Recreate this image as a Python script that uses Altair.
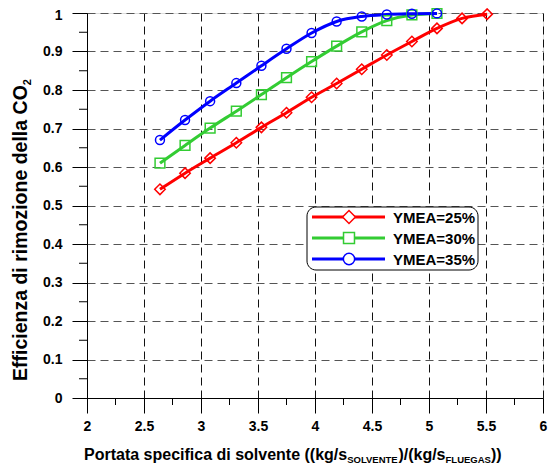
import altair as alt
import pandas as pd

# ---------------- data ----------------
series_labels = ["YMEA=25%", "YMEA=30%", "YMEA=35%"]
series_colors = ["#ff0000", "#33cc33", "#0000ff"]
series_shapes = ["diamond", "square", "circle"]
series_sizes = [110, 80, 85]

x_25 = [2.64, 2.86, 3.08, 3.31, 3.53, 3.75, 3.97, 4.19, 4.41, 4.63, 4.85, 5.07, 5.29, 5.51]
y_25 = [0.542, 0.584, 0.623, 0.663, 0.703, 0.741, 0.781, 0.817, 0.854, 0.891, 0.926, 0.960, 0.986, 0.997]

x_30 = [2.64, 2.86, 3.08, 3.31, 3.53, 3.75, 3.97, 4.19, 4.41, 4.63, 4.85, 5.07]
y_30 = [0.610, 0.656, 0.701, 0.745, 0.788, 0.832, 0.874, 0.914, 0.951, 0.980, 0.995, 0.999]

x_35 = [2.64, 2.86, 3.08, 3.31, 3.53, 3.75, 3.97, 4.19, 4.41, 4.63, 4.85, 5.07]
y_35 = [0.670, 0.722, 0.771, 0.818, 0.863, 0.907, 0.948, 0.978, 0.991, 0.996, 0.998, 0.999]

x_ticks = [2, 2.5, 3, 3.5, 4, 4.5, 5, 5.5, 6]
x_minor = [2.25, 2.75, 3.25, 3.75, 4.25, 4.75, 5.25, 5.75]
y_ticks = [0, 0.1, 0.2, 0.3, 0.4, 0.5, 0.6, 0.7, 0.8, 0.9, 1]
y_minor = [0.05, 0.15, 0.25, 0.35, 0.45, 0.55, 0.65, 0.75, 0.85, 0.95]

x_title_parts = [("Portata specifica di solvente ((kg/s", False), ("SOLVENTE", True),
                 (")/(kg/s", False), ("FLUEGAS", True), ("))", False)]
y_title_parts = [("Efficienza di rimozione della CO", False), ("2", True)]

# ---------------- layout ----------------
W, H = 456, 385
FONT = "Liberation Sans"

# Arial/Helvetica bold advance widths (per 1000 em) for title placement
AW = {" ": 278, "(": 333, ")": 333, "/": 278, "2": 556, "a": 556, "c": 556, "d": 611,
      "e": 556, "f": 333, "g": 611, "i": 278, "k": 556, "l": 278, "m": 889, "n": 611,
      "o": 611, "p": 611, "r": 389, "s": 556, "t": 333, "v": 556, "z": 500, "A": 722,
      "C": 722, "E": 667, "F": 611, "G": 778, "L": 611, "N": 722, "O": 778, "P": 667,
      "S": 667, "T": 611, "U": 722, "V": 667}


def tw(s, size):
    return sum(AW.get(ch, 556) for ch in s) * size / 1000.0


rows = []
for lab, xs_, ys_ in zip(series_labels, [x_25, x_30, x_35], [y_25, y_30, y_35]):
    for a, b in zip(xs_, ys_):
        rows.append({"x": a, "y": b, "series": lab})
df = pd.DataFrame(rows)

xscale = alt.Scale(domain=[2, 6], nice=False, zero=False)
yscale = alt.Scale(domain=[0, 1], nice=False, zero=False)

axis_common = dict(
    title=None, format="~g", grid=True, gridDash=[8, 5], gridWidth=1,
    tickSize=15, tickColor="black", tickWidth=1, domainColor="black", domainWidth=1,
    labelFont=FONT, labelFontSize=14, labelFontWeight="bold", labelColor="black",
)
x_axis = alt.Axis(values=x_ticks, gridColor="#111111", labelPadding=6, labelFlush=False,
                  **axis_common)
y_axis = alt.Axis(values=y_ticks, gridColor="#555555", labelPadding=10, labelFlush=False,
                  labelOffset={"condition": {"test": "datum.value >= 1", "value": 2}, "value": 0},
                  **axis_common)

color_scale = alt.Scale(domain=series_labels, range=series_colors)

X = lambda: alt.X("x:Q", scale=xscale, axis=x_axis)
Y = lambda: alt.Y("y:Q", scale=yscale, axis=y_axis)

lines = alt.Chart(df).mark_line(strokeWidth=3, interpolate="monotone").encode(
    x=X(), y=Y(),
    color=alt.Color("series:N", scale=color_scale, legend=None),
)

points = alt.Chart(df).mark_point(filled=False, strokeWidth=1.5, opacity=1).encode(
    x=X(), y=Y(),
    color=alt.Color("series:N", scale=color_scale, legend=None),
    shape=alt.Shape("series:N", scale=alt.Scale(domain=series_labels, range=series_shapes), legend=None),
    size=alt.Size("series:N", scale=alt.Scale(domain=series_labels, range=series_sizes), legend=None),
)

ymin_rules = alt.Chart(pd.DataFrame({"y": y_minor})).mark_rule(color="black", strokeWidth=1).encode(
    y=Y(), x=alt.value(-8), x2=alt.value(0))
xmin_rules = alt.Chart(pd.DataFrame({"x": x_minor})).mark_rule(color="black", strokeWidth=1).encode(
    x=X(), y=alt.value(H), y2=alt.value(H + 7))

one = pd.DataFrame({"a": [0]})
layers = [lines, points, ymin_rules, xmin_rules]

# legend box
LX0, LX1, LY0, LY1 = 220, 391, 194, 257
layers.append(alt.Chart(one).mark_rect(cornerRadius=9, fill="white", stroke="black", strokeWidth=1).encode(
    x=alt.value(LX0), x2=alt.value(LX1), y=alt.value(LY0), y2=alt.value(LY1)))
for i, (lab, col, shp, sz) in enumerate(zip(series_labels, series_colors, series_shapes, series_sizes)):
    ly = 204 + 21 * i
    layers.append(alt.Chart(one).mark_rule(color=col, strokeWidth=3).encode(
        x=alt.value(LX0 + 5), x2=alt.value(LX0 + 78), y=alt.value(ly)))
    layers.append(alt.Chart(one).mark_point(shape=shp, filled=False, fill="white", color=col,
                                            strokeWidth=1.5, size=sz * 1.5, opacity=1).encode(
        x=alt.value(LX0 + 42), y=alt.value(ly)))
    layers.append(alt.Chart(one).mark_text(text=lab, font=FONT, fontSize=15, fontWeight="bold",
                                           align="left", baseline="middle", color="black").encode(
        x=alt.value(LX0 + 86), y=alt.value(ly + 1)))

# x title (with subscripts)
cx = -3
for txt, sub in x_title_parts:
    size = 9.5 if sub else 16
    layers.append(alt.Chart(one).mark_text(text=txt, font=FONT, fontSize=size, fontWeight="bold",
                                           align="left", baseline="alphabetic", color="black").encode(
        x=alt.value(cx), y=alt.value(446.5 + (3.5 if sub else 0))))
    cx += tw(txt, size)

# y title (rotated, with subscript)
cy = 368
for txt, sub in y_title_parts:
    size = 11 if sub else 19.5
    layers.append(alt.Chart(one).mark_text(text=txt, font=FONT, fontSize=size, fontWeight="bold",
                                           angle=270, align="left", baseline="alphabetic", color="black").encode(
        x=alt.value(-60.5 + (4 if sub else 0)), y=alt.value(cy)))
    cy -= tw(txt, size)

chart = alt.layer(*layers).properties(
    width=W, height=H,
    autosize=alt.AutoSizeParams(type="none"),
    padding={"left": 79, "top": 5, "right": 5, "bottom": 68},
).configure_view(stroke=None).configure(background="white")

chart.save("out.html", embed_options={"renderer": "svg", "actions": False})
